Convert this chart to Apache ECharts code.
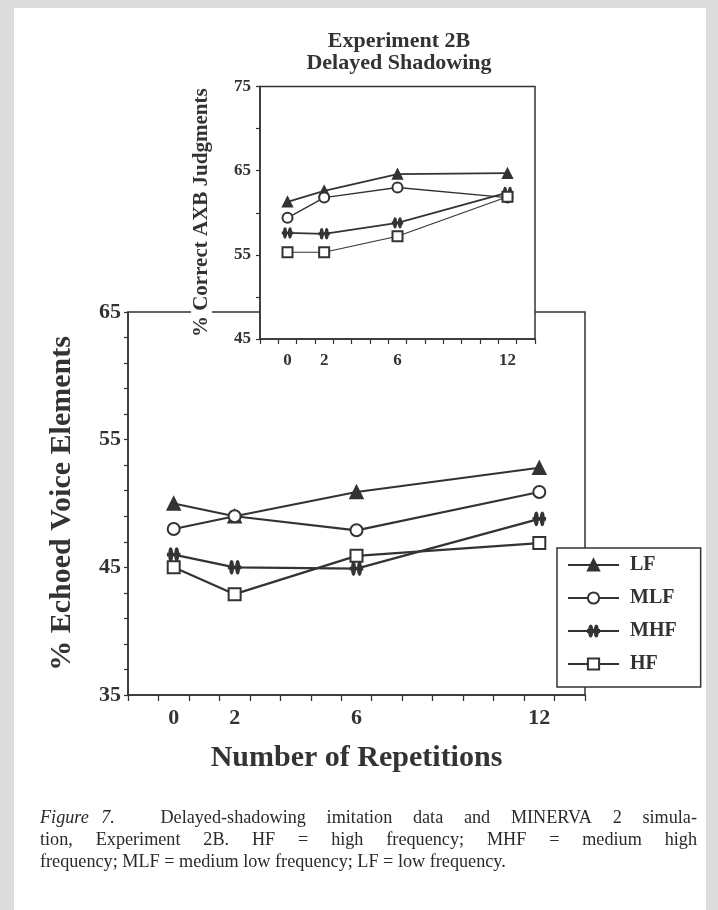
<!DOCTYPE html>
<html>
<head>
<meta charset="utf-8">
<script src="https://cdn.jsdelivr.net/npm/echarts@6/dist/echarts.min.js"></script>
<style>
  html, body { margin: 0; padding: 0; background: #dcdcdc; }
  #paper { position: absolute; left: 14px; top: 8px; width: 692px; height: 902px; background: #fff; }
  #chart { position: absolute; left: 0; top: 0; width: 718px; height: 910px; }
</style>
</head>
<body>
<div id="paper"></div>
<div id="chart"></div>
<script>
// ---------- data ----------
const reps = [0, 2, 6, 12];
const seriesNames = ['LF', 'MLF', 'MHF', 'HF'];

// main panel: % Echoed Voice Elements
const mainLF  = [50.0, 49.0, 50.9, 52.8];
const mainMLF = [48.0, 49.0, 47.9, 50.9];
const mainMHF = [46.0, 45.0, 44.9, 48.8];
const mainHF  = [45.0, 42.9, 45.9, 46.9];

// inset panel: % Correct AXB Judgments
const insetLF  = [61.3, 62.6, 64.6, 64.7];
const insetMLF = [59.4, 61.8, 63.0, 61.8];
const insetMHF = [57.6, 57.5, 58.8, 62.4];
const insetHF  = [55.3, 55.3, 57.2, 61.9];

// axis ticks / labels
const xTickCats = ['-1', '0', '1', '2', '3', '4', '5', '6', '7', '8', '9', '10', '11', '12', '13'];
const xLabelsShown = ['0', '2', '6', '12'];
const mainYTickCats = ['35', '37', '39', '41', '43', '45', '47', '49', '51', '53', '55', '57', '59', '61', '63', '65'];
const mainYLabelsShown = ['35', '45', '55', '65'];
const insetYLabelsShown = [45, 55, 65, 75];

const titleLines = ['Experiment 2B', 'Delayed Shadowing'];
const capLine1 = ['Figure', '7.', 'Delayed-shadowing', 'imitation', 'data', 'and', 'MINERVA', '2', 'simula-'];
const capLine2 = ['tion,', 'Experiment', '2B.', 'HF', '=', 'high', 'frequency;', 'MHF', '=', 'medium', 'high'];
const capLine3 = ['frequency;', 'MLF', '=', 'medium', 'low', 'frequency;', 'LF', '=', 'low', 'frequency.'];

// ---------- styling ----------
const INK = '#333';
const SERIF = '"Liberation Serif", "Times New Roman", serif';
const mhfPath = 'path://M3,0 C5.2,0 5.2,12 3,12 C0.8,12 0.8,0 3,0 Z M9,0 C11.2,0 11.2,12 9,12 C6.8,12 6.8,0 9,0 Z M0,5 L12,5 L12,7 L0,7 Z';

const symbols = {
  LF: 'triangle', MLF: 'emptyCircle', MHF: mhfPath, HF: 'emptyRect'
};
const mainSizes = { LF: 13, MLF: 12, MHF: [12, 13], HF: 12 };
const insetSizes = { LF: 10, MLF: 10, MHF: [10, 10], HF: 10 };
const insetWidths = { LF: 1.8, MLF: 1.4, MHF: 1.8, HF: 1.1 };

const mainData = { LF: mainLF, MLF: mainMLF, MHF: mainMHF, HF: mainHF };
const insetData = { LF: insetLF, MLF: insetMLF, MHF: insetMHF, HF: insetHF };

function pairs(vals) { return reps.map((r, i) => [r, vals[i]]); }

const series = [];
seriesNames.forEach(n => {
  series.push({
    name: n, type: 'line', xAxisIndex: 1, yAxisIndex: 1,
    data: pairs(mainData[n]),
    symbol: symbols[n], symbolSize: mainSizes[n],
    lineStyle: { color: INK, width: 2.2 },
    itemStyle: { color: INK, borderColor: INK, borderWidth: 1.6 },
    z: 2, animation: false
  });
});
seriesNames.forEach(n => {
  series.push({
    name: n, type: 'line', xAxisIndex: 3, yAxisIndex: 2,
    data: pairs(insetData[n]),
    symbol: symbols[n], symbolSize: insetSizes[n],
    lineStyle: { color: INK, width: insetWidths[n] },
    itemStyle: { color: INK, borderColor: INK, borderWidth: 1.4 },
    z: 7, animation: false
  });
});

// ---------- caption layout (justified lines) ----------
const measureCtx = document.createElement('canvas').getContext('2d');
const CAP_SIZE = 18.2;
function capFont(italic) { return (italic ? 'italic ' : '') + CAP_SIZE + 'px ' + SERIF; }
function layoutLine(words, y, x0, x1, justify, italicCount, gapWeights) {
  const els = [];
  const widths = words.map((w, i) => { measureCtx.font = capFont(i < italicCount); return measureCtx.measureText(w).width; });
  measureCtx.font = capFont(false);
  const spaceW = measureCtx.measureText(' ').width;
  const weights = words.slice(1).map((_, i) => (gapWeights && gapWeights[i]) || 1);
  let unit = spaceW;
  if (justify) {
    const total = widths.reduce((a, b) => a + b, 0);
    unit = (x1 - x0 - total) / weights.reduce((a, b) => a + b, 0);
  }
  let x = x0;
  words.forEach((w, i) => {
    els.push({
      type: 'text', x: x, y: y, silent: true,
      style: { text: w, font: capFont(i < italicCount), fill: '#2a2a2a', textVerticalAlign: 'middle' }
    });
    x += widths[i] + (i < weights.length ? unit * weights[i] : 0);
  });
  return els;
}

const graphics = [];
titleLines.forEach((t, i) => {
  graphics.push({
    type: 'text', x: 399, y: 41.5 + i * 21.8, silent: true,
    style: { text: t, font: 'bold 22px ' + SERIF, fill: INK, textAlign: 'center', textVerticalAlign: 'middle' }
  });
});
graphics.push(...layoutLine(capLine1, 818, 40, 697, true, 2, [0.6, 2.2]));
graphics.push(...layoutLine(capLine2, 840, 40, 697, true, 0));
graphics.push(...layoutLine(capLine3, 862, 40, 697, false, 0));

const axisLineStyle = { color: INK, width: 1.5 };
const tickLabelStyle = { fontFamily: SERIF, fontWeight: 'bold', color: INK };

const option = {
  animation: false,
  grid: [
    { left: 128, top: 312, width: 457, height: 383, show: true, backgroundColor: 'transparent', borderColor: INK, borderWidth: 1.5, z: 0 },
    { left: 260, top: 86.5, width: 275, height: 252.5, show: true, backgroundColor: '#fff', borderColor: INK, borderWidth: 1.5, z: 5 }
  ],
  xAxis: [
    {
      gridIndex: 0, type: 'category', data: xTickCats, boundaryGap: true, z: 1,
      axisLine: { onZero: false, lineStyle: axisLineStyle },
      axisTick: { show: true, length: 6, lineStyle: { color: INK, width: 1.3 } },
      axisLabel: Object.assign({ interval: 0, margin: 12, fontSize: 22, formatter: v => xLabelsShown.includes(v) ? v : '' }, tickLabelStyle),
      splitLine: { show: false },
      name: 'Number of Repetitions', nameLocation: 'middle', nameGap: 48,
      nameTextStyle: { fontFamily: SERIF, fontWeight: 'bold', fontSize: 30, color: INK }
    },
    { gridIndex: 0, type: 'value', min: -1.5, max: 13.5, show: false },
    {
      gridIndex: 1, type: 'category', data: xTickCats, boundaryGap: true, z: 6,
      axisLine: { onZero: false, lineStyle: axisLineStyle },
      axisTick: { show: true, length: 5, lineStyle: { color: INK, width: 1.2 } },
      axisLabel: Object.assign({ interval: 0, margin: 13, fontSize: 17, formatter: v => xLabelsShown.includes(v) ? v : '' }, tickLabelStyle),
      splitLine: { show: false }
    },
    { gridIndex: 1, type: 'value', min: -1.5, max: 13.5, show: false }
  ],
  yAxis: [
    {
      gridIndex: 0, type: 'category', data: mainYTickCats, boundaryGap: false, z: 1,
      axisLine: { onZero: false, lineStyle: axisLineStyle },
      axisTick: { show: true, length: 4, lineStyle: { color: INK, width: 1.2 } },
      axisLabel: Object.assign({ interval: 0, margin: 7, fontSize: 22, formatter: v => mainYLabelsShown.includes(v) ? v : '' }, tickLabelStyle),
      splitLine: { show: false },
      name: '% Echoed Voice Elements', nameLocation: 'middle', nameGap: 51, nameRotate: 90,
      nameTextStyle: { fontFamily: SERIF, fontWeight: 'bold', fontSize: 30, color: INK }
    },
    { gridIndex: 0, type: 'value', min: 35, max: 65, show: false },
    {
      gridIndex: 1, type: 'value', min: 45, max: 75, interval: 5, z: 6,
      axisLine: { show: true, onZero: false, lineStyle: axisLineStyle },
      axisTick: { show: true, length: 4, lineStyle: { color: INK, width: 1.2 } },
      axisLabel: Object.assign({ margin: 9, fontSize: 17, formatter: v => insetYLabelsShown.includes(v) ? String(v) : '' }, tickLabelStyle),
      splitLine: { show: false },
      name: '% Correct AXB Judgments', nameLocation: 'middle', nameGap: 48, nameRotate: 90,
      nameTextStyle: { fontFamily: SERIF, fontWeight: 'bold', fontSize: 21, color: INK, backgroundColor: '#fff', padding: [0, 4, 0, 4] }
    }
  ],
  legend: {
    data: seriesNames, orient: 'vertical', left: 557, top: 548,
    itemWidth: 51, itemHeight: 14, itemGap: 13,
    padding: [7, 24, 13, 10],
    backgroundColor: '#fff', borderColor: INK, borderWidth: 1.5, borderRadius: 0,
    textStyle: { fontFamily: SERIF, fontWeight: 'bold', fontSize: 20, color: INK, padding: [0, 0, 0, 6] },
    selectedMode: false, z: 8
  },
  graphic: graphics,
  series: series
};

const chart = echarts.init(document.getElementById('chart'), null, { renderer: 'canvas' });
chart.setOption(option);
</script>
</body>
</html>
